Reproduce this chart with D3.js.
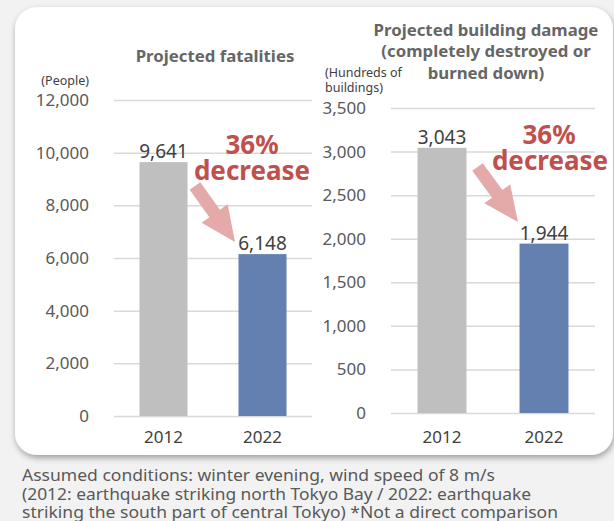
<!DOCTYPE html>
<html>
<head>
<meta charset="utf-8">
<script src="https://cdn.jsdelivr.net/npm/d3@7"></script>
<style>
  body { margin: 0; background: #f2f2f2; }
  svg text { font-family: "Noto Sans", sans-serif; }
</style>
</head>
<body>
<script>
var years = ["2012", "2022"];
var fatalities = [9641, 6148];
var buildings = [3043, 1944];
var fatalTicks = [0, 2000, 4000, 6000, 8000, 10000, 12000];
var buildingTicks = [0, 500, 1000, 1500, 2000, 2500, 3000, 3500];
var barColors = ["#bfbfbf", "#6480b1"];
var noteLines = [
  "Assumed conditions: winter evening, wind speed of 8 m/s",
  "(2012: earthquake striking north Tokyo Bay / 2022: earthquake",
  "striking the south part of central Tokyo) *Not a direct comparison"
];
var noteWidths = [473, 509, 536];

var svgWidth = 614, svgHeight = 521;

var svg = d3.select("body").append("svg")
    .attr("width", svgWidth).attr("height", svgHeight);

svg.append("rect").attr("width", svgWidth).attr("height", svgHeight).attr("fill", "#f2f2f2");

var defs = svg.append("defs");
var f = defs.append("filter").attr("id", "shadow").attr("x", "-10%").attr("y", "-10%").attr("width", "120%").attr("height", "125%");
f.append("feDropShadow").attr("dx", 1).attr("dy", 3).attr("stdDeviation", 3).attr("flood-color", "#000").attr("flood-opacity", 0.35);

// white card
svg.append("rect")
    .attr("x", 15).attr("y", 7).attr("width", 598).attr("height", 448)
    .attr("rx", 22).attr("ry", 22)
    .attr("fill", "#fff")
    .attr("filter", "url(#shadow)");

var panels = [
  {values: fatalities, ticks: fatalTicks, xRange: [114, 312], yRange: [416, 100], pad: 0.515,
   titleX: 215, titleY: [62], title: ["Projected fatalities"],
   unit: ["(People)"], unitX: 89, unitY: [85], unitAnchor: "end",
   pct: [252, 154], dec: [252, 180], tail: [195, 186], tip: [235, 242]},
  {values: buildings, ticks: buildingTicks, xRange: [391, 595], yRange: [413, 108], pad: 0.52,
   titleX: 486, titleY: [36, 57, 79],
   title: ["Projected building damage", "(completely destroyed or", "burned down)"],
   unit: ["(Hundreds of", "buildings)"], unitX: 325, unitY: [77, 92], unitAnchor: "start",
   pct: [549, 144], dec: [550, 170], tail: [477.5, 167], tip: [518, 222]}
];

panels.forEach(function(p) {
  var g = svg.append("g");
  var x = d3.scaleBand().domain(years).range(p.xRange).paddingInner(p.pad).paddingOuter(p.pad / 2);
  var y = d3.scaleLinear().domain([0, d3.max(p.ticks)]).range(p.yRange);
  var w = p.xRange[1] - p.xRange[0];

  var yAxis = d3.axisLeft(y).tickValues(p.ticks).tickSize(-w).tickPadding(25)
      .tickFormat(d3.format(","));
  var ag = g.append("g").attr("transform", "translate(" + p.xRange[0] + ",0)").call(yAxis);
  ag.select(".domain").remove();
  ag.selectAll("line").attr("stroke", "#d9d9d9").attr("stroke-width", 1.5);
  ag.selectAll("text").attr("fill", "#595959").attr("font-size", "17px");

  g.selectAll(".bar").data(p.values).enter().append("rect")
      .attr("x", function(d, i) { return x(years[i]); })
      .attr("y", function(d) { return y(d); })
      .attr("width", x.bandwidth())
      .attr("height", function(d) { return y(0) - y(d); })
      .attr("fill", function(d, i) { return barColors[i]; });

  g.selectAll(".val").data(p.values).enter().append("text")
      .attr("x", function(d, i) { return x(years[i]) + x.bandwidth() / 2; })
      .attr("y", function(d) { return y(d) - 4; })
      .attr("text-anchor", "middle").attr("fill", "#404040").attr("font-size", "19px")
      .text(d3.format(","));

  g.selectAll(".cat").data(years).enter().append("text")
      .attr("x", function(d) { return x(d) + x.bandwidth() / 2; })
      .attr("y", 443)
      .attr("text-anchor", "middle").attr("fill", "#404040").attr("font-size", "17px")
      .text(function(d) { return d; });

  p.title.forEach(function(t, i) {
    g.append("text").attr("x", p.titleX).attr("y", p.titleY[i])
        .attr("text-anchor", "middle").attr("font-weight", "bold")
        .attr("font-size", "16.8px").attr("fill", "#666").text(t);
  });

  p.unit.forEach(function(t, i) {
    g.append("text").attr("x", p.unitX).attr("y", p.unitY[i])
        .attr("text-anchor", p.unitAnchor).attr("font-size", "12.5px").attr("fill", "#404040").text(t);
  });

  // arrow
  var dx = p.tip[0] - p.tail[0], dy = p.tip[1] - p.tail[1];
  var len = Math.sqrt(dx * dx + dy * dy);
  var ang = Math.atan2(dy, dx) * 180 / Math.PI;
  var sw = 6.5, hw = 16, hl = 35;
  var pts = [[0, -sw], [len - hl, -sw], [len - hl, -hw], [len, 0], [len - hl, hw], [len - hl, sw], [0, sw]];
  g.append("path")
      .attr("d", d3.line()(pts) + "Z")
      .attr("transform", "translate(" + p.tail[0] + "," + p.tail[1] + ") rotate(" + ang + ")")
      .attr("fill", "#e4a9a9");

  g.append("text").attr("x", p.pct[0]).attr("y", p.pct[1])
      .attr("text-anchor", "middle").attr("font-weight", "bold").attr("font-size", "26px")
      .attr("fill", "#c0504d").text("36%");
  g.append("text").attr("x", p.dec[0]).attr("y", p.dec[1])
      .attr("text-anchor", "middle").attr("font-weight", "bold").attr("font-size", "26px")
      .attr("fill", "#c0504d").text("decrease");
});

svg.selectAll(".note").data(noteLines).enter().append("text")
    .attr("x", 22)
    .attr("y", function(d, i) { return 481 + i * 18.5; })
    .attr("font-size", "16.4px").attr("fill", "#595959")
    .attr("textLength", function(d, i) { return noteWidths[i]; })
    .attr("lengthAdjust", "spacingAndGlyphs")
    .text(function(d) { return d; });
</script>
</body>
</html>
